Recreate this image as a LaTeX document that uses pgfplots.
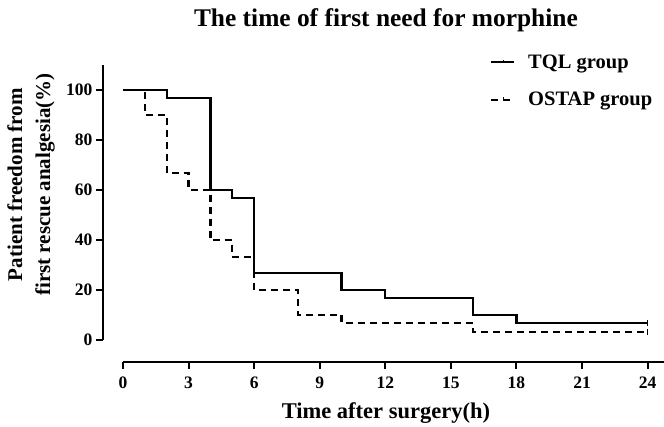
\documentclass[border=0pt]{standalone}
\usepackage{fontspec}
\setmainfont{Liberation Serif}
\usepackage{pgfplots}
\pgfplotsset{compat=1.18}

\begin{document}
\begin{tikzpicture}
\begin{axis}[
    scale only axis,
    width=541pt, height=275pt,
    xmin=0, xmax=24.75,
    ymin=0, ymax=110,
    axis lines=left,
    axis line style={line width=2.3pt, -},
    axis x line shift=22pt,
    axis y line shift=20pt,
    xtick={0,3,...,24},
    ytick={0,20,...,100},
    tick style={line width=2pt, black},
    tick align=outside,
    major tick length=7pt,
    /pgf/number format/assume math mode=true,
    tick label style={font=\bfseries\fontsize{17.5}{17.5}\selectfont},
    xticklabel style={yshift=-4pt},
    title={The time of first need for morphine},
    title style={font=\bfseries\fontsize{25.4}{25.4}\selectfont,
        at={(axis description cs:0.486,1)}, anchor=center, yshift=39pt},
    xlabel={Time after surgery(h)},
    xlabel style={font=\bfseries\fontsize{22.5}{22.5}\selectfont,
        at={(axis description cs:0.486,0)}, anchor=center, yshift=-73pt},
    ylabel={Patient freedom from\\first rescue analgesia(\%)},
    ylabel style={font=\bfseries\fontsize{21}{28}\selectfont, align=center,
        at={(axis description cs:0,0.565)}, anchor=center, yshift=92pt},
    legend style={at={(axis description cs:0.678,1.045)}, anchor=north west,
        draw=none, fill=none, inner sep=0pt,
        font=\bfseries\fontsize{20.5}{20.5}\selectfont, row sep=18.5pt},
    legend image code/.code={
        \draw[#1] (0pt,0pt) -- (23pt,0pt);
        \draw[solid, line width=1pt] (12pt,0pt) -- (12pt,2.5pt);
        \path (34pt,0pt);
    },
    legend cell align=left,
    clip=false,
]
\addplot[const plot, black, line width=2.2pt, line join=miter] coordinates {
    (0,100) (2,96.67) (4,60) (5,56.67) (6,26.67) (10,20) (12,16.67)
    (16,10) (18,6.67) (24,6.67)
};
\addlegendentry{TQL group}
\addplot[const plot, black, line width=2.2pt, line join=miter,
    dash pattern=on 7pt off 5pt] coordinates {
    (0,100) (1,90) (2,66.67) (3,60) (4,40) (5,33.33) (6,20) (8,10)
    (10,6.67) (16,3.33) (24,3.33)
};
\addlegendentry{OSTAP group}
\addplot[only marks, mark=|, mark size=3pt, line width=1.5pt, black, forget plot]
    coordinates {(24,6.67) (24,3.33)};
\end{axis}
\pgfresetboundingbox
\path ([shift={(-123pt,-87pt)}]current axis.south west)
    rectangle ([shift={(0pt,65pt)}]current axis.north east);
\end{tikzpicture}
\end{document}
